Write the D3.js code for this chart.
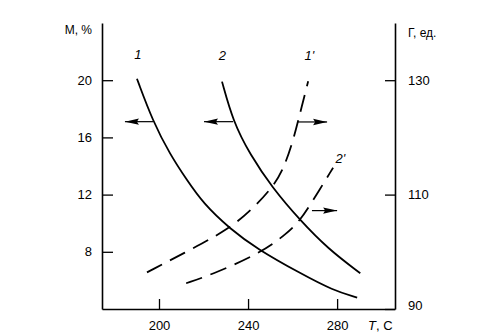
<!DOCTYPE html>
<html><head><meta charset="utf-8">
<script src="https://cdn.jsdelivr.net/npm/d3@7"></script>
<style>body{margin:0;background:#fff}svg{display:block}text{font-family:"Liberation Sans",Arial,sans-serif;fill:#000}</style>
</head><body><svg id="c" width="496" height="334"></svg>
<script>
// Data
const curve1 = [[190.1,20.1],[197.3,17.1],[205,14.8],[212.6,13.0],[219.8,11.4],[231.9,9.6],[244.1,8.2],[263.4,6.5],[278.2,5.3],[289,4.8]];
const curve2 = [[228.3,19.9],[233.3,17.1],[240.9,14.8],[250.8,12.5],[263.4,10.2],[276,8.2],[290.4,6.5]];
const curve1p = [[194.6,96.4],[215.3,100.6],[231.9,104.1],[242.3,107.6],[250.8,111.2],[255.7,114.2],[260.2,119.4],[262.5,122.9],[267,129.8]];
const curve2p = [[212.2,94.5],[222.9,95.9],[245.4,99.7],[257.5,103.2],[263.4,105.5],[269.2,109.0],[278.2,114.7]];
const xTicks = [200,240,280];
const leftTicks = [8,12,16,20];
const rightTicks = [90,110,130];
// arrows: [T from, T to, value, axis]
const arrows = [[197.3,184.7,17.1,"L"],[233.3,220.2,17.1,"L"],[262.5,275.5,122.7,"R"],[268.7,280,107.2,"R"]];
const labels = [["1",190.5,21.5,"L"],["2",228.5,21.4,"L"],["1'",267.5,133.5,"R"],["2'",281.5,115.5,"R"]];

const svg = d3.select("#c");
const x = d3.scaleLinear().domain([174.4,306]).range([102,395]);
const yL = d3.scaleLinear().domain([4,24]).range([309,23]);
const yR = d3.scaleLinear().domain([90,140]).range([309,23]);

const ax = svg.append("g").attr("transform","translate(0,309)")
  .call(d3.axisBottom(x).tickValues(xTicks).tickSize(-10).tickSizeOuter(0).tickPadding(12).tickFormat(d3.format("d")));
const al = svg.append("g").attr("transform","translate(102,0)")
  .call(d3.axisLeft(yL).tickValues(leftTicks).tickSize(-11).tickSizeOuter(0).tickPadding(10));
const ar = svg.append("g").attr("transform","translate(395,0)")
  .call(d3.axisRight(yR).tickValues(rightTicks).tickSize(-10).tickSizeOuter(0).tickPadding(13));
[ax,al,ar].forEach(g=>{
  g.selectAll("path.domain").attr("stroke","#000").attr("stroke-width",1.6);
  g.selectAll(".tick line").attr("stroke","#000").attr("stroke-width",1.3);
  g.selectAll("text").style("font-family","'Liberation Sans',Arial,sans-serif").style("font-size","13px").attr("fill","#000");
});
ar.selectAll(".tick text").filter(d=>d===90).attr("dy","0.05em");

svg.append("text").attr("x",92).attr("y",34).attr("text-anchor","end").style("font-size","12px").text("M, %");
svg.append("text").attr("x",408).attr("y",37).style("font-size","12px").text("Г, ед.");
const tl = svg.append("text").attr("x",368).attr("y",330).style("font-size","13px");
tl.append("tspan").style("font-style","italic").text("T");
tl.append("tspan").text(",  C");

const lineL = d3.line().x(d=>x(d[0])).y(d=>yL(d[1])).curve(d3.curveBasis);
const lineR = d3.line().x(d=>x(d[0])).y(d=>yR(d[1])).curve(d3.curveBasis);
svg.append("path").attr("d",lineL(curve1)).attr("fill","none").attr("stroke","#000").attr("stroke-width",1.8);
svg.append("path").attr("d",lineL(curve2)).attr("fill","none").attr("stroke","#000").attr("stroke-width",1.8);
svg.append("path").attr("d",lineR(curve1p)).attr("fill","none").attr("stroke","#000").attr("stroke-width",1.8).attr("stroke-dasharray","17,9");
svg.append("path").attr("d",lineR(curve2p)).attr("fill","none").attr("stroke","#000").attr("stroke-width",1.8).attr("stroke-dasharray","17,9");

arrows.forEach(a=>{
  const y = a[3]==="L"?yL(a[2]):yR(a[2]);
  const x0 = x(a[0]), x1 = x(a[1]);
  const dir = Math.sign(x1-x0);
  svg.append("line").attr("x1",x0).attr("x2",x1).attr("y1",y).attr("y2",y).attr("stroke","#000").attr("stroke-width",1.2);
  const hl = 14;
  svg.append("path").attr("d",`M${x1},${y} L${x1-dir*hl},${y-3.2} L${x1-dir*(hl-2)},${y} L${x1-dir*hl},${y+3.2} Z`).attr("fill","#000");
});

labels.forEach(l=>{
  const y = l[3]==="L"?yL(l[2]):yR(l[2]);
  svg.append("text").attr("x",x(l[1])).attr("y",y).attr("text-anchor","middle").style("font-size","13px").style("font-style","italic").text(l[0]);
});
</script></body></html>
